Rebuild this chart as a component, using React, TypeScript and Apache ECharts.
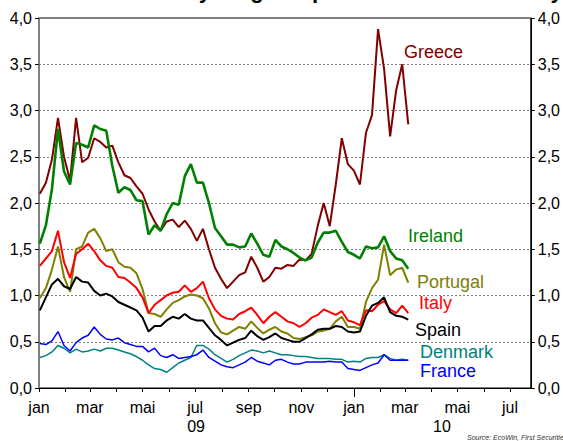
import React, { useEffect, useRef } from 'react';
import * as echarts from 'echarts';

// weekly observation dates (Fridays) from 2 Jan 2009 to 5 Mar 2010
const START = Date.UTC(2009, 0, 2);
const WEEK = 7 * 24 * 3600 * 1000;
const weeks: number[] = Array.from({ length: 62 }, (_, i) => START + i * WEEK);

const monthNames = ['jan', 'feb', 'mar', 'apr', 'mai', 'jun', 'jul', 'aug', 'sep', 'okt', 'nov', 'des'];
const monthTicks = [
  '2009-01-01', '2009-02-01', '2009-03-01', '2009-04-01', '2009-05-01', '2009-06-01',
  '2009-07-01', '2009-08-01', '2009-09-01', '2009-10-01', '2009-11-01', '2009-12-01',
  '2010-01-01', '2010-02-01', '2010-03-01', '2010-04-01', '2010-05-01', '2010-06-01', '2010-07-01',
];
const monthLabels = [
  '2009-01-01', '2009-03-01', '2009-05-01', '2009-07-01', '2009-09-01', '2009-11-01',
  '2010-01-01', '2010-03-01', '2010-05-01', '2010-07-01',
];
const yearDividers = ['2010-01-01'];
const yearLabelDates = ['2009-07-02', '2010-04-13'];
const yearLabelText = ['09', '10'];
const xMin = '2009-01-01';
const xMax = '2010-07-25';

const greece = [
  2.10, 2.22, 2.47, 2.92, 2.50, 2.24, 2.92, 2.44, 2.49, 2.70,
  2.66, 2.60, 2.62, 2.44, 2.30, 2.27, 2.18, 2.10, 1.93, 1.80,
  1.70, 1.80, 1.82, 1.74, 1.81, 1.72, 1.59, 1.72, 1.50, 1.30,
  1.18, 1.08, 1.15, 1.22, 1.25, 1.42, 1.30, 1.15, 1.20, 1.30,
  1.29, 1.33, 1.32, 1.39, 1.38, 1.45, 1.75, 2.00, 1.75, 2.20,
  2.70, 2.42, 2.35, 2.20, 2.76, 2.95, 3.88, 3.45, 2.72, 3.22,
  3.50, 2.85,
];
const ireland = [
  1.56, 1.76, 2.15, 2.80, 2.34, 2.20, 2.65, 2.63, 2.60, 2.84,
  2.80, 2.78, 2.40, 2.11, 2.17, 2.14, 2.03, 2.02, 1.66, 1.76,
  1.70, 1.88, 2.00, 1.98, 2.29, 2.42, 2.22, 2.22, 2.00, 1.73,
  1.64, 1.55, 1.55, 1.52, 1.53, 1.67, 1.56, 1.44, 1.42, 1.60,
  1.53, 1.50, 1.46, 1.41, 1.38, 1.41, 1.57, 1.68, 1.68, 1.70,
  1.58, 1.47, 1.44, 1.40, 1.53, 1.51, 1.52, 1.64, 1.48, 1.40,
  1.38, 1.29,
];
const portugal = [
  0.97, 1.08, 1.28, 1.53, 1.20, 1.04, 1.50, 1.53, 1.68, 1.72,
  1.62, 1.48, 1.50, 1.36, 1.31, 1.30, 1.24, 1.07, 0.81, 0.80,
  0.77, 0.85, 0.92, 0.95, 0.99, 1.01, 1.00, 0.97, 0.86, 0.70,
  0.60, 0.58, 0.62, 0.66, 0.64, 0.72, 0.65, 0.59, 0.63, 0.66,
  0.61, 0.59, 0.54, 0.53, 0.55, 0.57, 0.61, 0.62, 0.64, 0.72,
  0.77, 0.66, 0.66, 0.64, 0.93, 1.08, 1.17, 1.55, 1.22, 1.28,
  1.30, 1.14,
];
const italy = [
  1.32, 1.40, 1.48, 1.70, 1.36, 1.19, 1.45, 1.50, 1.56, 1.48,
  1.38, 1.32, 1.30, 1.20, 1.19, 1.14, 1.08, 0.98, 0.81, 0.90,
  0.95, 1.00, 1.03, 1.04, 1.11, 1.04, 1.08, 1.15, 0.97, 0.85,
  0.78, 0.75, 0.74, 0.80, 0.83, 0.87, 0.79, 0.70, 0.77, 0.82,
  0.77, 0.72, 0.70, 0.66, 0.70, 0.76, 0.79, 0.85, 0.82, 0.79,
  0.83, 0.73, 0.71, 0.68, 0.84, 0.83, 0.90, 0.94, 0.85, 0.81,
  0.89, 0.81,
];
const spain = [
  0.84, 0.98, 1.12, 1.18, 1.10, 1.07, 1.20, 1.15, 1.14, 1.05,
  1.00, 1.02, 0.99, 0.93, 0.90, 0.87, 0.84, 0.76, 0.61, 0.67,
  0.67, 0.73, 0.77, 0.75, 0.80, 0.75, 0.73, 0.73, 0.65, 0.57,
  0.52, 0.46, 0.49, 0.52, 0.54, 0.62, 0.56, 0.52, 0.55, 0.59,
  0.54, 0.52, 0.50, 0.50, 0.54, 0.58, 0.63, 0.64, 0.64, 0.67,
  0.66, 0.61, 0.60, 0.61, 0.78, 0.89, 0.92, 0.98, 0.82, 0.78,
  0.77, 0.74,
];
const denmark = [
  0.33, 0.35, 0.39, 0.46, 0.43, 0.38, 0.42, 0.39, 0.40, 0.42,
  0.40, 0.43, 0.43, 0.41, 0.39, 0.37, 0.34, 0.30, 0.25, 0.21,
  0.20, 0.17, 0.22, 0.27, 0.30, 0.33, 0.46, 0.46, 0.42, 0.36,
  0.32, 0.28, 0.31, 0.35, 0.38, 0.41, 0.40, 0.38, 0.40, 0.38,
  0.36, 0.36, 0.35, 0.34, 0.34, 0.33, 0.32, 0.32, 0.32, 0.31,
  0.31, 0.28, 0.29, 0.28, 0.32, 0.33, 0.33, 0.36, 0.32, 0.30,
  0.31, 0.30,
];
const france = [
  0.48, 0.47, 0.51, 0.61, 0.46, 0.40, 0.49, 0.54, 0.57, 0.66,
  0.58, 0.53, 0.52, 0.54, 0.49, 0.47, 0.45, 0.45, 0.39, 0.43,
  0.35, 0.33, 0.36, 0.32, 0.33, 0.34, 0.36, 0.41, 0.33, 0.29,
  0.25, 0.23, 0.22, 0.25, 0.28, 0.33, 0.29, 0.27, 0.25, 0.30,
  0.31, 0.28, 0.26, 0.26, 0.28, 0.28, 0.28, 0.28, 0.29, 0.28,
  0.28, 0.21, 0.20, 0.19, 0.22, 0.25, 0.27, 0.36, 0.30, 0.30,
  0.30, 0.30,
];

const FONT = '"Liberation Sans", Arial, sans-serif';

const seriesDefs = [
  { name: 'Greece', data: greece, color: '#800000', width: 2 },
  { name: 'Ireland', data: ireland, color: '#008000', width: 2.6 },
  { name: 'Portugal', data: portugal, color: '#808000', width: 2 },
  { name: 'Italy', data: italy, color: '#ff0000', width: 2 },
  { name: 'Spain', data: spain, color: '#000000', width: 2 },
  { name: 'Denmark', data: denmark, color: '#008080', width: 1.5 },
  { name: 'France', data: france, color: '#0000ff', width: 1.5 },
];

const labelPos: Record<string, [number, number]> = {
  Greece: [404, 52],
  Ireland: [408, 236],
  Portugal: [417, 282],
  Italy: [419, 303],
  Spain: [415, 330],
  Denmark: [420, 352],
  France: [420, 371],
};

const fmtY = (v: number) => v.toFixed(1).replace('.', ',');

export default function App() {
  const ref = useRef<HTMLDivElement>(null);
  useEffect(() => {
    if (!ref.current) return;
    const chart = echarts.init(ref.current, undefined, { renderer: 'svg' });
    const t = (s: string) => Date.parse(s);
    const yAxisBase = {
      type: 'value',
      min: 0,
      max: 4,
      interval: 0.5,
      axisLabel: { formatter: fmtY, color: '#000', fontSize: 16, fontFamily: FONT, margin: 7 },
      axisTick: { show: true, length: 4, lineStyle: { color: '#000' } },
    };
    chart.setOption({
      animation: false,
      backgroundColor: '#fff',
      grid: { left: 39, right: 30, top: 18, bottom: 53, show: true, borderColor: '#000', borderWidth: 1, backgroundColor: 'transparent' },
      xAxis: [
        {
          type: 'value',
          min: t(xMin),
          max: t(xMax),
          position: 'bottom',
          splitLine: { show: false },
          axisLine: { show: true, onZero: false, lineStyle: { color: '#000', width: 1 } },
          axisTick: { show: true, length: 4, customValues: monthTicks.map(t), lineStyle: { color: '#000' } },
          axisLabel: {
            customValues: monthLabels.map(t),
            formatter: (v: number) => monthNames[new Date(v).getUTCMonth()],
            color: '#000', fontSize: 16, fontFamily: FONT, margin: 11,
          },
        },
        {
          type: 'value',
          min: t(xMin),
          max: t(xMax),
          position: 'bottom',
          splitLine: { show: false },
          axisLine: { show: false, onZero: false },
          axisTick: { show: true, length: 9, customValues: yearDividers.map(t), lineStyle: { color: '#000' } },
          axisLabel: {
            customValues: yearLabelDates.map(t),
            formatter: (v: number) => yearLabelText[yearLabelDates.map(t).indexOf(v)] ?? '',
            color: '#000', fontSize: 16, fontFamily: FONT, margin: 30,
          },
        },
      ],
      yAxis: [
        {
          ...yAxisBase,
          position: 'left',
          axisLine: { show: true, lineStyle: { color: '#808080', width: 2 } },
          splitLine: { show: true, lineStyle: { color: '#808080', type: [2, 2], width: 1 } },
        },
        {
          ...yAxisBase,
          position: 'right',
          axisLine: { show: true, lineStyle: { color: '#000', width: 1 } },
          splitLine: { show: false },
        },
      ],
      series: seriesDefs.map((s) => ({
        name: s.name,
        type: 'line',
        xAxisIndex: 0,
        yAxisIndex: 0,
        symbol: 'none',
        smooth: false,
        data: s.data.map((v, i) => [weeks[i], v]),
        lineStyle: { color: s.color, width: s.width },
        itemStyle: { color: s.color },
        z: 3,
      })),
      graphic: [
        {
          type: 'text',
          x: 167,
          y: -21,
          style: {
            text: '10-year gov. spreads versus Germany',
            fill: '#000', fontSize: 22, fontWeight: 'bold', fontFamily: FONT,
            verticalAlign: 'top',
          },
        },
        ...seriesDefs.map((s) => ({
          type: 'text',
          x: labelPos[s.name][0],
          y: labelPos[s.name][1],
          style: { text: s.name, fill: s.color, fontSize: 18, fontFamily: FONT, verticalAlign: 'middle' },
          z: 10,
        })),
        {
          type: 'text',
          x: 467,
          y: 437,
          style: {
            text: 'Source: EcoWin, First Securities',
            fill: '#333', fontSize: 7, fontStyle: 'italic', fontFamily: FONT, verticalAlign: 'middle',
          },
        },
      ],
    });
    return () => chart.dispose();
  }, []);
  return <div ref={ref} style={{ position: 'fixed', left: 0, top: 0, width: 563, height: 441 }} />;
}
